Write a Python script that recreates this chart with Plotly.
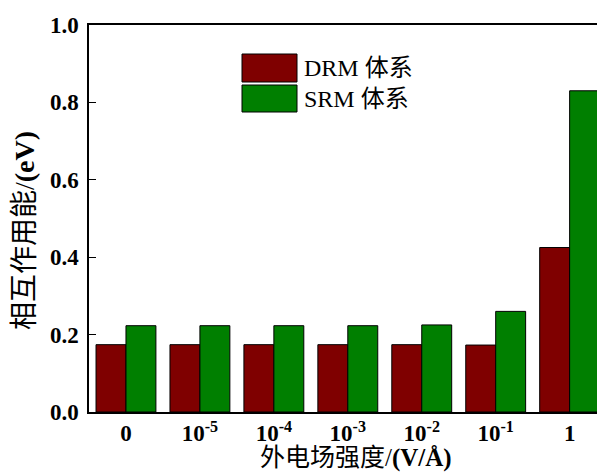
import plotly.graph_objects as go

# Field strength categories and interaction energies (eV)
categories = ["0", "10<sup>-5</sup>", "10<sup>-4</sup>", "10<sup>-3</sup>",
              "10<sup>-2</sup>", "10<sup>-1</sup>", "1"]
drm_energy = [0.174, 0.174, 0.174, 0.174, 0.174, 0.173, 0.425]
srm_energy = [0.223, 0.223, 0.223, 0.223, 0.225, 0.260, 0.830]
series_names = ["DRM 体系", "SRM 体系"]
series_colors = ["#7f0000", "#007f00"]
y_ticks = [0, 0.2, 0.4, 0.6, 0.8, 1.0]

serif = "'Liberation Serif', 'Times New Roman', 'Noto Sans CJK SC', serif"
x_idx = list(range(len(categories)))

fig = go.Figure()
for name, vals, col in zip(series_names, [drm_energy, srm_energy], series_colors):
    fig.add_trace(go.Bar(
        x=x_idx, y=vals, name=name,
        marker=dict(color=col, line=dict(color="#000000", width=1)),
        showlegend=False,
    ))

W, H = 597, 474
L, R, T, B = 89, 0, 25, 62
PW, PH = W - L - R, H - T - B


def px_x(x):
    return (x - L) / PW


def px_y(y):
    return (H - B - y) / PH


fig.update_layout(
    width=W, height=H,
    margin=dict(l=L, r=R, t=T, b=B),
    paper_bgcolor="white", plot_bgcolor="white",
    barmode="group", bargap=0.19, bargroupgap=0,
    font=dict(family=serif, color="#000000"),
    xaxis=dict(
        range=[-0.5, 6.37],
        tickmode="array", tickvals=x_idx, ticktext=[f"<b>{c}</b>" for c in categories],
        tickfont=dict(size=23, family=serif),
        showline=True, linecolor="#000000", linewidth=1.5, mirror=True,
        ticks="", showgrid=False, zeroline=False,
    ),
    yaxis=dict(
        range=[0, 1.0],
        tickmode="array", tickvals=y_ticks,
        ticktext=[f"<b>{v:.1f}</b>" for v in y_ticks],
        tickfont=dict(size=23, family=serif),
        showline=True, linecolor="#000000", linewidth=1.5,
        ticks="inside", ticklen=7, tickwidth=1.2, tickcolor="#000000",
        ticklabelstandoff=4,
        showgrid=False, zeroline=False,
    ),
)

# Axis titles
fig.add_annotation(xref="paper", yref="paper",
                   x=px_x(356), y=px_y(458),
                   xanchor="center", yanchor="middle", showarrow=False,
                   text="外电场强度/<b>(V/Å)</b>", borderpad=0,
                   font=dict(size=25, family=serif, color="#000000"))
fig.add_annotation(xref="paper", yref="paper",
                   x=px_x(24), y=px_y(231),
                   xanchor="center", yanchor="middle", showarrow=False, textangle=-90,
                   text="相互作用能/<b>(eV)</b>",
                   font=dict(size=28, family=serif, color="#000000"))

# Legend drawn as large swatches with labels
leg_x0, leg_x1 = 242, 297
rows = [(54, 82), (85, 112)]
for (y0, y1), name, col in zip(rows, series_names, series_colors):
    fig.add_shape(type="rect", xref="paper", yref="paper",
                  x0=px_x(leg_x0), x1=px_x(leg_x1),
                  y0=px_y(y1), y1=px_y(y0),
                  fillcolor=col, line=dict(color="#000000", width=1))
    fig.add_annotation(xref="paper", yref="paper",
                       x=px_x(302), y=px_y((y0 + y1) / 2),
                       xanchor="left", yanchor="middle", showarrow=False,
                       text=name, font=dict(size=24, family=serif, color="#000000"))

fig.write_html("out.html")
